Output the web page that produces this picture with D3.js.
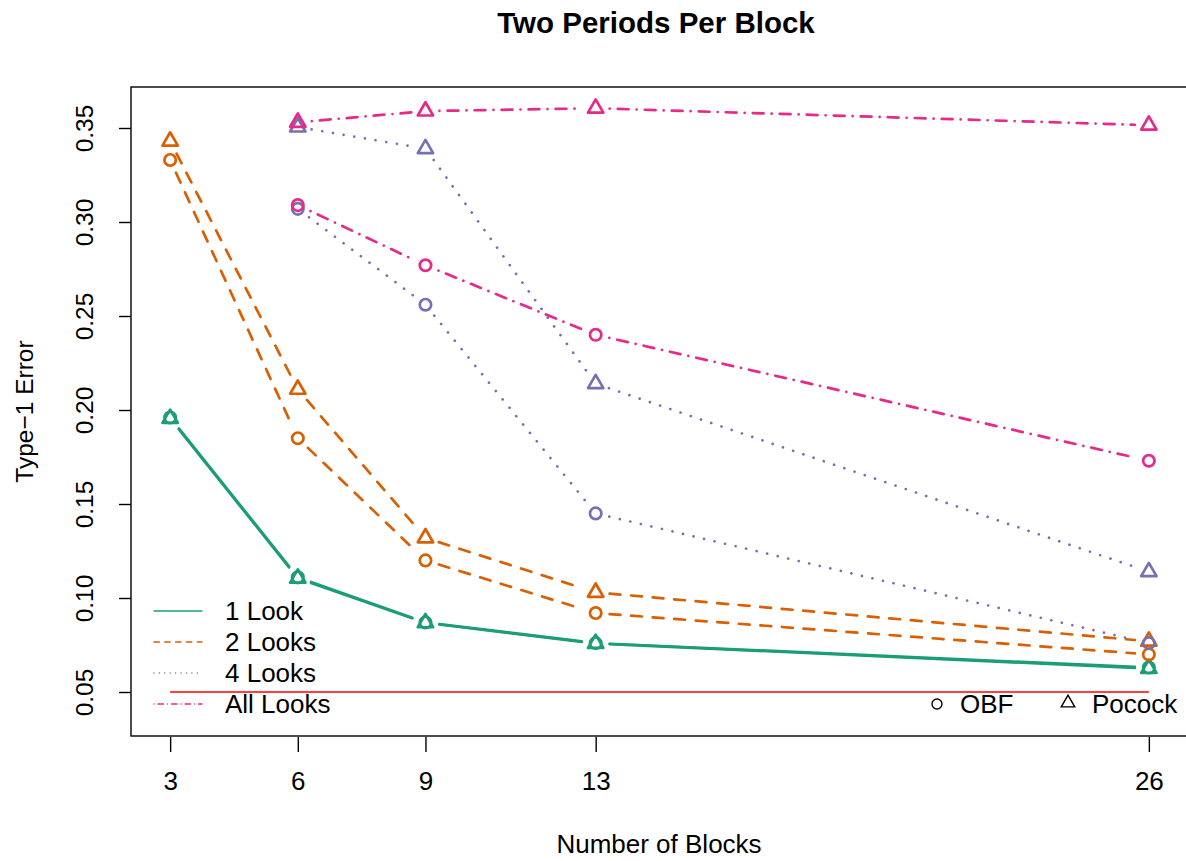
<!DOCTYPE html>
<html>
<head>
<meta charset="utf-8">
<script src="https://cdn.jsdelivr.net/npm/d3@7"></script>
<style>
  html, body { margin: 0; padding: 0; background: #fff; }
  svg { display: block; font-family: "Liberation Sans", Arial, Helvetica, sans-serif; }
</style>
</head>
<body>
<svg id="chart" width="1186" height="861"></svg>
<script>
// Number of blocks on the x axis
const blocks = [3, 6, 9, 13, 26];
const xTicks = ["3", "6", "9", "13", "26"];
const yTicks = [0.05, 0.10, 0.15, 0.20, 0.25, 0.30, 0.35];

const lookNames = ["1 Look", "2 Looks", "4 Looks", "All Looks"];
const lookColors = ["#1B9E77", "#D95F02", "#7570B3", "#E7298A"];

// Type-1 error per number of blocks (null where the design has no value)
const obf1    = [0.196, 0.111, 0.087, 0.076, 0.063];
const pocock1 = [0.1955, 0.1105, 0.0868, 0.0758, 0.0625];
const obf2    = [0.333, 0.185, 0.120, 0.092, 0.070];
const pocock2 = [0.343, 0.211, 0.132, 0.103, 0.077];
const obf4    = [null, 0.307, 0.256, 0.145, 0.076];
const pocock4 = [null, 0.3505, 0.339, 0.214, 0.114];
const obfAll    = [null, 0.309, 0.277, 0.240, 0.173];
const pocockAll = [null, 0.353, 0.359, 0.3605, 0.3515];

const nominal = 0.05;

const obfSeries = [obf1, obf2, obf4, obfAll];
const pocockSeries = [pocock1, pocock2, pocock4, pocockAll];

const svg = d3.select("#chart");
const plot = { left: 131, right: 1188, top: 87, bottom: 736 };

const x = d3.scaleLinear().domain([2.08, 26.92]).range([plot.left, plot.right]);
const y = d3.scaleLinear().domain([0.02660, 0.37181]).range([plot.bottom, plot.top]);

const LW = 2.7;
const dashes = [
  null,
  [10.8, 10.8],
  [0.01, 10.8],
  [0.01, 8.1, 10.8, 8.1]
];
const legendDashes = [null, [5.4, 5.4], [0.01, 5.4], [0.01, 4.05, 5.4, 4.05]];

// plot frame
svg.append("rect")
  .attr("x", plot.left).attr("y", plot.top)
  .attr("width", plot.right - plot.left).attr("height", plot.bottom - plot.top)
  .attr("fill", "none").attr("stroke", "#000").attr("stroke-width", 1.4);

// x axis
const xAxis = d3.axisBottom(x).tickValues(blocks).tickFormat((d, i) => xTicks[i]).tickSize(15).tickPadding(20);
const gx = svg.append("g").attr("transform", `translate(0,${plot.bottom + 1})`).call(xAxis);
gx.select(".domain").remove();
gx.selectAll("line").attr("stroke-width", 1.4);
gx.selectAll("text").attr("font-size", 26).attr("font-family", "Liberation Sans, Arial, sans-serif").attr("fill", "#000").attr("dy", "0.71em");

// y axis
const yAxis = d3.axisLeft(y).tickValues(yTicks).tickFormat(d3.format(".2f")).tickSize(12);
const gy = svg.append("g").attr("transform", `translate(${plot.left},0)`).call(yAxis);
gy.select(".domain").remove();
gy.selectAll("line").attr("stroke-width", 1.4);
gy.selectAll("text")
  .attr("font-size", 24.5)
  .attr("font-family", "Liberation Sans, Arial, sans-serif")
  .attr("fill", "#000")
  .attr("x", null).attr("dy", null)
  .attr("text-anchor", "middle")
  .attr("transform", d => `translate(${93 - plot.left},0) rotate(-90)`);
gy.selectAll(".tick text").attr("y", 0);

// titles
svg.append("text").attr("x", 656).attr("y", 33).attr("text-anchor", "middle")
  .attr("font-size", 29.5).attr("font-weight", "bold").text("Two Periods Per Block");
svg.append("text").attr("x", 659).attr("y", 853).attr("text-anchor", "middle")
  .attr("font-size", 26).text("Number of Blocks");
svg.append("text").attr("transform", `translate(33,${(plot.top + plot.bottom) / 2}) rotate(-90)`)
  .attr("text-anchor", "middle").attr("font-size", 24.5).text("Type\u22121 Error");

// nominal level reference line
svg.append("line")
  .attr("x1", x(blocks[0])).attr("x2", x(blocks[blocks.length - 1]))
  .attr("y1", y(nominal)).attr("y2", y(nominal))
  .attr("stroke", "#FF0000").attr("stroke-width", 1.6);

// symbols
const R = 5.7;
const TRC0 = Math.sqrt(4 * Math.PI / (3 * Math.sqrt(3)));
const TRC1 = TRC0 * Math.sqrt(3) / 2;
const TRC2 = TRC0 / 2;
function trianglePath(cx, cy, r) {
  const t = TRC0 * r, xc = TRC1 * r, yc = TRC2 * r;
  return `M${cx},${cy - t}L${cx + xc},${cy + yc}L${cx - xc},${cy + yc}Z`;
}

const GAP = 14;
function drawSeries(values, color, dash, shape) {
  const pts = blocks.map((b, i) => values[i] == null ? null : [x(b), y(values[i])]).filter(p => p);
  const g = svg.append("g");
  // connecting segments, leaving a gap round each point
  for (let i = 0; i < pts.length - 1; i++) {
    const [x1, y1] = pts[i], [x2, y2] = pts[i + 1];
    const len = Math.hypot(x2 - x1, y2 - y1);
    if (len <= 2 * GAP) continue;
    const ux = (x2 - x1) / len, uy = (y2 - y1) / len;
    g.append("line")
      .attr("x1", x1 + ux * GAP).attr("y1", y1 + uy * GAP)
      .attr("x2", x2 - ux * GAP).attr("y2", y2 - uy * GAP)
      .attr("stroke", color).attr("stroke-width", LW)
      .attr("stroke-linecap", "round")
      .attr("stroke-dasharray", dash ? dash.join(",") : null);
  }
  pts.forEach(([px, py]) => {
    if (shape === "circle") {
      g.append("circle").attr("cx", px).attr("cy", py).attr("r", R)
        .attr("fill", "none").attr("stroke", color).attr("stroke-width", LW);
    } else {
      g.append("path").attr("d", trianglePath(px, py, R))
        .attr("fill", "none").attr("stroke", color).attr("stroke-width", LW)
        .attr("stroke-linejoin", "round");
    }
  });
}

lookNames.forEach((name, k) => {
  drawSeries(obfSeries[k], lookColors[k], dashes[k], "circle");
  drawSeries(pocockSeries[k], lookColors[k], dashes[k], "triangle");
});

// line-type legend
const legendY = [611, 642, 673, 704];
const leg = svg.append("g");
lookNames.forEach((name, k) => {
  leg.append("line").attr("x1", 154).attr("x2", 202).attr("y1", legendY[k]).attr("y2", legendY[k])
    .attr("stroke", lookColors[k]).attr("stroke-width", 1.4).attr("stroke-linecap", "round")
    .attr("stroke-dasharray", legendDashes[k] ? legendDashes[k].join(",") : null);
  leg.append("text").attr("x", 225).attr("y", legendY[k] + 9).attr("font-size", 26).text(name);
});

// symbol legend
const symY = 704;
leg.append("circle").attr("cx", 937).attr("cy", symY).attr("r", 5)
  .attr("fill", "none").attr("stroke", "#000").attr("stroke-width", 1.4);
leg.append("text").attr("x", 960).attr("y", symY + 9).attr("font-size", 26).text("OBF");
leg.append("path").attr("d", trianglePath(1068, symY - 1, 5))
  .attr("fill", "none").attr("stroke", "#000").attr("stroke-width", 1.4);
leg.append("text").attr("x", 1092).attr("y", symY + 9).attr("font-size", 26).text("Pocock");
</script>
</body>
</html>
